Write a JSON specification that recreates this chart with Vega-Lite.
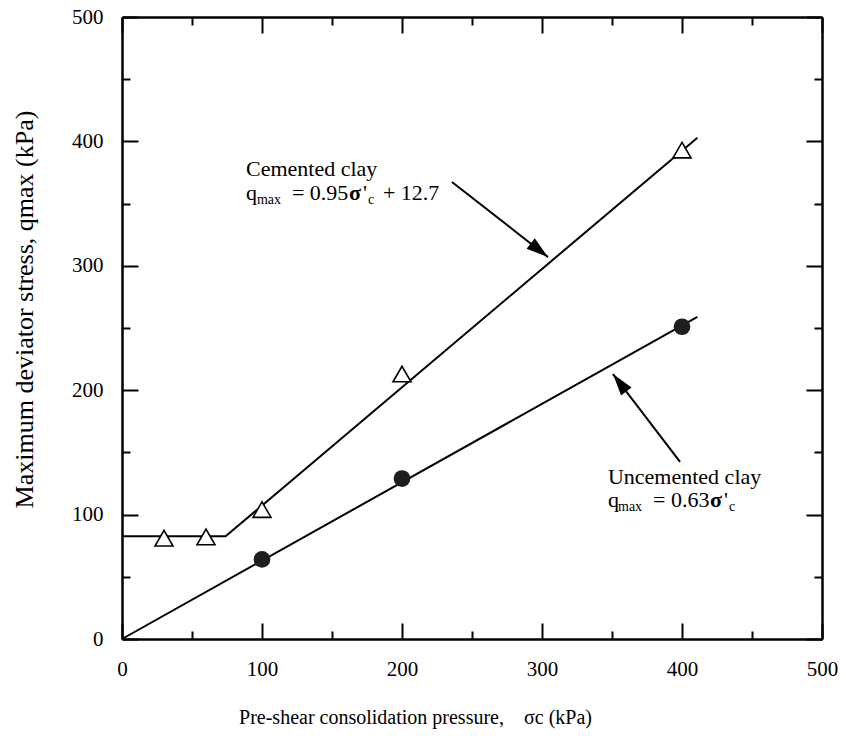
{
  "$schema": "https://vega.github.io/schema/vega-lite/v6.json",
  "width": 700,
  "height": 622,
  "autosize": {"type": "none"},
  "padding": {"left": 122, "top": 17, "right": 24, "bottom": 97},
  "background": "white",
  "config": {
    "view": {"stroke": null},
    "font": "Liberation Serif",
    "axis": {
      "grid": false,
      "domainColor": "black",
      "domainWidth": 2.5,
      "tickColor": "black",
      "tickWidth": 2,
      "labelFont": "Liberation Serif",
      "labelFontSize": 21,
      "labelColor": "black",
      "titleFont": "Liberation Serif",
      "titleFontWeight": "normal",
      "titleColor": "black",
      "labelFlush": false,
      "labelOverlap": false
    }
  },
  "datasets": {
    "fits": [
      {"series": "Cemented", "x": 0, "y": 82.5},
      {"series": "Cemented", "x": 74, "y": 82.5},
      {"series": "Cemented", "x": 411, "y": 403},
      {"series": "Uncemented", "x": 0, "y": 0},
      {"series": "Uncemented", "x": 411, "y": 259}
    ],
    "cemented": [
      {"x": 30, "y": 81},
      {"x": 60, "y": 82},
      {"x": 100, "y": 104},
      {"x": 200, "y": 213},
      {"x": 400, "y": 393}
    ],
    "uncemented": [
      {"x": 100, "y": 64},
      {"x": 200, "y": 129},
      {"x": 400, "y": 251}
    ],
    "arrows": [
      {"label": "Cemented", "x": 235.7, "y": 367.4, "x2": 304.3, "y2": 307},
      {"label": "Uncemented", "x": 398.6, "y": 142.3, "x2": 350.7, "y2": 213}
    ],
    "textMain": [
      {"x": 88.6, "y": 372.4, "t": "Cemented clay"},
      {"x": 88.6, "y": 353.2, "t": "q"},
      {"x": 121.4, "y": 353.2, "t": "= 0.95"},
      {"x": 172.1, "y": 353.2, "t": "'"},
      {"x": 186.4, "y": 353.2, "t": "+ 12.7"},
      {"x": 347.1, "y": 124.6, "t": "Uncemented clay"},
      {"x": 347.1, "y": 105.8, "t": "q"},
      {"x": 379.3, "y": 105.8, "t": "= 0.63"},
      {"x": 430.0, "y": 105.8, "t": "'"}
    ],
    "textSigma": [
      {"x": 162.1, "y": 353.2, "t": "σ"},
      {"x": 420.0, "y": 105.8, "t": "σ"}
    ],
    "textSub": [
      {"x": 96.4, "y": 350.0, "t": "max"},
      {"x": 175.7, "y": 350.0, "t": "c"},
      {"x": 354.3, "y": 103.0, "t": "max"},
      {"x": 433.6, "y": 103.0, "t": "c"}
    ]
  },
  "resolve": {"axis": {"x": "independent", "y": "independent"}},
  "layer": [
    {
      "data": {"name": "fits"},
      "mark": {"type": "line", "color": "black", "strokeWidth": 2},
      "encoding": {
        "x": {
          "field": "x", "type": "quantitative",
          "scale": {"domain": [0, 500], "nice": false},
          "axis": {
            "orient": "bottom",
            "values": [0, 50, 100, 150, 200, 250, 300, 350, 400, 450, 500],
            "labelExpr": "datum.value % 100 === 0 ? datum.label : ''",
            "tickSize": {"condition": {"test": "datum.value % 100 === 0", "value": -16}, "value": -8},
            "labelPadding": 35,
            "title": "Pre-shear consolidation pressure,\u00a0\u00a0\u00a0\u00a0σc (kPa)",
            "titleFontSize": 20,
            "titleX": 293,
            "titleY": 84,
            "titleBaseline": "alphabetic",
            "titleAlign": "center"
          }
        },
        "y": {
          "field": "y", "type": "quantitative",
          "scale": {"domain": [0, 500], "nice": false},
          "axis": {
            "orient": "left",
            "values": [0, 50, 100, 150, 200, 250, 300, 350, 400, 450, 500],
            "labelExpr": "datum.value % 100 === 0 ? datum.label : ''",
            "tickSize": {"condition": {"test": "datum.value % 100 === 0", "value": -16}, "value": -8},
            "labelPadding": 35,
            "title": "Maximum deviator stress, qmax (kPa)",
            "titleFontSize": 26,
            "titleAngle": -90,
            "titleX": -90,
            "titleY": 292,
            "titleBaseline": "alphabetic",
            "titleAlign": "center"
          }
        },
        "detail": {"field": "series"}
      }
    },
    {
      "data": {"name": "arrows"},
      "mark": {"type": "rule", "color": "black", "strokeWidth": 2},
      "encoding": {
        "x": {
          "field": "x", "type": "quantitative",
          "axis": {
            "orient": "top",
            "values": [0, 50, 100, 150, 200, 250, 300, 350, 400, 450, 500],
            "labels": false,
            "tickSize": {"condition": {"test": "datum.value % 100 === 0", "value": -16}, "value": -8},
            "title": null
          }
        },
        "y": {
          "field": "y", "type": "quantitative",
          "axis": {
            "orient": "right",
            "values": [0, 50, 100, 150, 200, 250, 300, 350, 400, 450, 500],
            "labels": false,
            "tickSize": {"condition": {"test": "datum.value % 100 === 0", "value": -16}, "value": -8},
            "title": null
          }
        },
        "x2": {"field": "x2"},
        "y2": {"field": "y2"}
      }
    },
    {
      "data": {"name": "arrows"},
      "transform": [{"filter": "datum.label === 'Cemented'"}],
      "mark": {"type": "point", "shape": "M0,0L-2,-0.6L-2,0.6Z", "filled": true, "color": "black", "opacity": 1, "size": 484, "angle": 38},
      "encoding": {
        "x": {"field": "x2", "type": "quantitative", "axis": null},
        "y": {"field": "y2", "type": "quantitative", "axis": null}
      }
    },
    {
      "data": {"name": "arrows"},
      "transform": [{"filter": "datum.label === 'Uncemented'"}],
      "mark": {"type": "point", "shape": "M0,0L-2,-0.6L-2,0.6Z", "filled": true, "color": "black", "opacity": 1, "size": 484, "angle": 232.7},
      "encoding": {
        "x": {"field": "x2", "type": "quantitative", "axis": null},
        "y": {"field": "y2", "type": "quantitative", "axis": null}
      }
    },
    {
      "data": {"name": "cemented"},
      "mark": {"type": "point", "shape": "triangle-up", "filled": true, "fill": "white", "stroke": "black", "strokeWidth": 1.6, "opacity": 1, "size": 324},
      "encoding": {
        "x": {"field": "x", "type": "quantitative", "axis": null},
        "y": {"field": "y", "type": "quantitative", "axis": null}
      }
    },
    {
      "data": {"name": "uncemented"},
      "mark": {"type": "point", "shape": "circle", "filled": true, "color": "#1e1e1e", "opacity": 1, "size": 280},
      "encoding": {
        "x": {"field": "x", "type": "quantitative", "axis": null},
        "y": {"field": "y", "type": "quantitative", "axis": null}
      }
    },
    {
      "data": {"name": "textMain"},
      "mark": {"type": "text", "font": "Liberation Serif", "fontSize": 22, "align": "left", "baseline": "alphabetic", "color": "black"},
      "encoding": {
        "x": {"field": "x", "type": "quantitative", "axis": null},
        "y": {"field": "y", "type": "quantitative", "axis": null},
        "text": {"field": "t"}
      }
    },
    {
      "data": {"name": "textSigma"},
      "mark": {"type": "text", "font": "Liberation Serif", "fontSize": 22, "fontWeight": "bold", "align": "left", "baseline": "alphabetic", "color": "black"},
      "encoding": {
        "x": {"field": "x", "type": "quantitative", "axis": null},
        "y": {"field": "y", "type": "quantitative", "axis": null},
        "text": {"field": "t"}
      }
    },
    {
      "data": {"name": "textSub"},
      "mark": {"type": "text", "font": "Liberation Serif", "fontSize": 14, "align": "left", "baseline": "alphabetic", "color": "black"},
      "encoding": {
        "x": {"field": "x", "type": "quantitative", "axis": null},
        "y": {"field": "y", "type": "quantitative", "axis": null},
        "text": {"field": "t"}
      }
    }
  ]
}
